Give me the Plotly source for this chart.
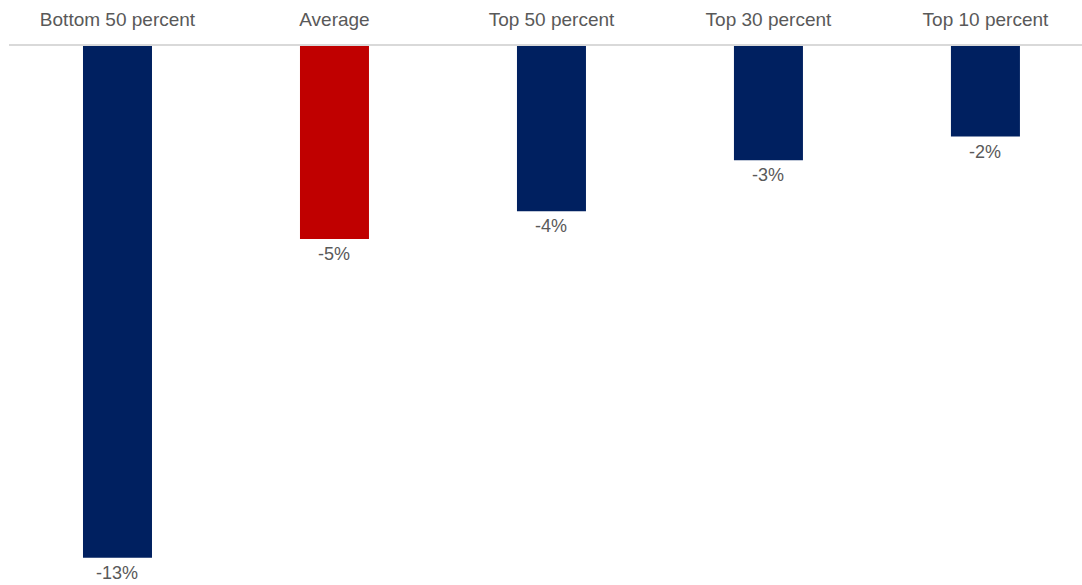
import plotly.graph_objects as go

categories = ["Bottom 50 percent", "Average", "Top 50 percent", "Top 30 percent", "Top 10 percent"]
values = [-13.0, -4.9, -4.2, -2.9, -2.3]
colors = ["#002060", "#C00000", "#002060", "#002060", "#002060"]

FONT = "Liberation Sans, Arial, sans-serif"

fig = go.Figure(go.Bar(
    x=categories,
    y=values,
    marker=dict(color=colors, line=dict(width=0)),
    width=0.318,
))

for c, v in zip(categories, values):
    fig.add_annotation(
        x=c, y=v, text=f"{v:.0f}%", showarrow=False,
        yanchor="top", yshift=-4, borderpad=0,
        font=dict(family=FONT, size=18, color="#595959"),
    )

fig.update_layout(
    width=1082, height=585,
    margin=dict(l=9, r=0, t=46, b=0),
    paper_bgcolor="white", plot_bgcolor="white",
    showlegend=False,
    font=dict(family=FONT, size=19, color="#595959"),
    xaxis=dict(
        side="top",
        range=[-0.5, 4.445],
        showline=True, linecolor="#d9d9d9", linewidth=2,
        showgrid=False, zeroline=False,
        ticks="", ticklabelstandoff=10,
        tickfont=dict(family=FONT, size=19, color="#595959"),
    ),
    yaxis=dict(
        range=[-13.69, 0],
        visible=False,
        showgrid=False, zeroline=False,
    ),
)

fig.write_html("out.html")
